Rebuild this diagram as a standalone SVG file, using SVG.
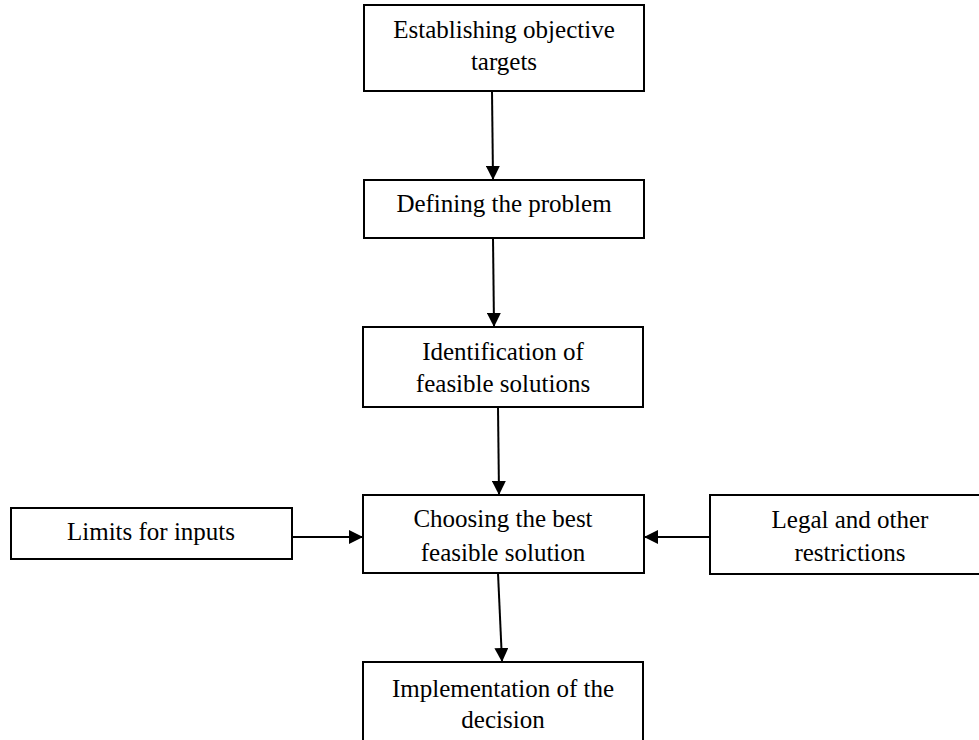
<svg xmlns="http://www.w3.org/2000/svg" width="979" height="740" viewBox="0 0 979 740">
<style>
.box{fill:#fff;stroke:#000;stroke-width:2}
.t{font-family:"Liberation Serif","Times New Roman",serif;font-size:25px;fill:#000;text-anchor:middle}
.c{stroke:#000;stroke-width:2;fill:none;marker-end:url(#ah)}
</style>
<defs>
<marker id="ah" markerWidth="14" markerHeight="14" refX="13" refY="7" orient="auto" markerUnits="userSpaceOnUse">
<path d="M0,0 L14,7 L0,14 Z" fill="#000"/>
</marker>
</defs>
<rect width="979" height="740" fill="#fff"/>
<g id="connectors">
<line class="c" x1="492" y1="91" x2="493" y2="179"/>
<line class="c" x1="493" y1="238" x2="494" y2="326"/>
<line class="c" x1="498" y1="407" x2="499" y2="494"/>
<line class="c" x1="498" y1="573" x2="502" y2="661"/>
<line class="c" x1="292" y1="537" x2="362" y2="537"/>
<line class="c" x1="710" y1="537" x2="645" y2="537"/>
</g>
<g id="n1"><rect class="box" x="364" y="5" width="280" height="86"/>
<text class="t" x="504" y="38">Establishing objective</text><text class="t" x="504" y="70">targets</text></g>
<g id="n2"><rect class="box" x="364" y="180" width="280" height="58"/>
<text class="t" x="504" y="212">Defining the problem</text></g>
<g id="n3"><rect class="box" x="363" y="327" width="280" height="80"/>
<text class="t" x="503" y="360">Identification of</text><text class="t" x="503" y="392">feasible solutions</text></g>
<g id="n4"><rect class="box" x="363" y="495" width="281" height="78"/>
<text class="t" x="503" y="527">Choosing the best</text><text class="t" x="503" y="561">feasible solution</text></g>
<g id="n5"><rect class="box" x="11" y="508" width="281" height="51"/>
<text class="t" x="151" y="540">Limits for inputs</text></g>
<g id="n6"><rect class="box" x="710" y="495" width="280" height="79"/>
<text class="t" x="850" y="528">Legal and other</text><text class="t" x="850" y="561">restrictions</text></g>
<g id="n7"><rect class="box" x="363" y="662" width="280" height="90"/>
<text class="t" x="503" y="697">Implementation of the</text><text class="t" x="503" y="728">decision</text></g>
</svg>
